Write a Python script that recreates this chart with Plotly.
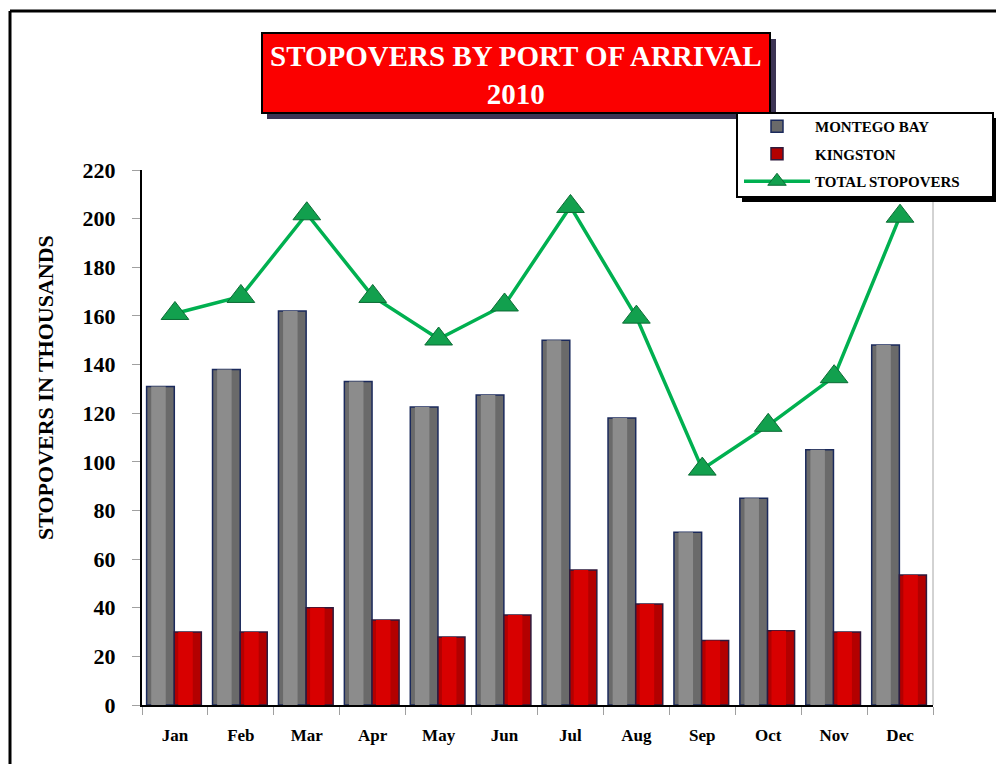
import plotly.graph_objects as go

months = ["Jan", "Feb", "Mar", "Apr", "May", "Jun", "Jul", "Aug", "Sep", "Oct", "Nov", "Dec"]
montego_bay = [131, 138, 162, 133, 122.5, 127.5, 150, 118, 71, 85, 105, 148]
kingston = [30, 30, 40, 35, 28, 37, 55.5, 41.5, 26.5, 30.5, 30, 53.5]
total_stopovers = [161, 168, 202, 168, 150.5, 164.5, 205, 159.5, 97, 115, 135, 201]
y_ticks = [0, 20, 40, 60, 80, 100, 120, 140, 160, 180, 200, 220]

FONT = "Liberation Serif"

# plot-area pixel geometry -> paper coordinates
L, R, T, B = 142, 933, 170, 705
W, H = 996, 764
def px(x):
    return (x - L) / (R - L)
def py(y):
    return (B - y) / (B - T)

fig = go.Figure()

# Montego Bay: base bar + soft highlight for a cylindrical look
fig.add_trace(go.Bar(
    x=months, y=montego_bay, name="MONTEGO BAY", legendgroup="mb",
    offset=-0.43, width=0.42,
    marker=dict(color="#6a6a6a", line=dict(color="#1b2a5c", width=1.5)),
))
fig.add_trace(go.Bar(
    x=months, y=montego_bay, name="MONTEGO BAY", legendgroup="mb", showlegend=False,
    offset=-0.36, width=0.22, hoverinfo="skip",
    marker=dict(color="#8c8c8c", line=dict(width=0)),
))
fig.add_trace(go.Bar(
    x=months, y=kingston, name="KINGSTON", legendgroup="kg",
    offset=-0.01, width=0.41,
    marker=dict(color="#b30000", line=dict(color="#2e1a3c", width=1.5)),
))
fig.add_trace(go.Bar(
    x=months, y=kingston, name="KINGSTON", legendgroup="kg", showlegend=False,
    offset=0.05, width=0.22, hoverinfo="skip",
    marker=dict(color="#d80000", line=dict(width=0)),
))
fig.add_trace(go.Scatter(
    x=months, y=total_stopovers, name="TOTAL STOPOVERS", legendgroup="tot",
    mode="lines+markers",
    line=dict(color="#00b050", width=3.5),
    marker=dict(symbol="triangle-up", size=24, color="#12a04e",
                line=dict(color="#0b6b34", width=1)),
))

shapes = [
    # title shadow + box
    dict(type="rect", xref="paper", yref="paper",
         x0=px(267), x1=px(776), y0=py(119), y1=py(39),
         fillcolor="#3c3454", line=dict(width=0), layer="above"),
    dict(type="rect", xref="paper", yref="paper",
         x0=px(262), x1=px(770), y0=py(113), y1=py(33),
         fillcolor="#fb0000", line=dict(color="#000000", width=2), layer="above"),
    # legend shadow + box
    dict(type="rect", xref="paper", yref="paper",
         x0=px(742), x1=px(998), y0=py(202), y1=py(118),
         fillcolor="#000000", line=dict(width=0), layer="above"),
    dict(type="rect", xref="paper", yref="paper",
         x0=px(737), x1=px(993), y0=py(197), y1=py(113),
         fillcolor="#ffffff", line=dict(color="#000000", width=2), layer="above"),
    # outer frame
    dict(type="line", xref="paper", yref="paper",
         x0=px(10), x1=px(10), y0=py(770), y1=py(11),
         line=dict(color="#000000", width=3)),
    dict(type="line", xref="paper", yref="paper",
         x0=px(10), x1=px(1000), y0=py(11), y1=py(11),
         line=dict(color="#000000", width=3)),
    # right edge of plot area
    dict(type="line", xref="paper", yref="paper",
         x0=1, x1=1, y0=0, y1=1,
         line=dict(color="#a6a6a6", width=1), layer="below"),
]

annotations = [
    dict(text="<b>STOPOVERS BY PORT OF ARRIVAL<br>2010</b>", xref="paper", yref="paper",
         x=px(516), y=py(75), showarrow=False, xanchor="center", yanchor="middle",
         font=dict(family=FONT, size=29, color="#ffffff")),
    dict(text="<b>STOPOVERS IN THOUSANDS</b>", xref="paper", yref="paper",
         x=px(45), y=py(388), showarrow=False, textangle=-90,
         xanchor="center", yanchor="middle",
         font=dict(family=FONT, size=22, color="#000000")),
]

fig.update_layout(
    width=W, height=H,
    margin=dict(l=L, r=W - R, t=T, b=H - B),
    paper_bgcolor="#ffffff", plot_bgcolor="#ffffff",
    barmode="overlay",
    font=dict(family=FONT, color="#000000"),
    showlegend=True,
    legend=dict(
        x=px(739), y=py(110), xanchor="left", yanchor="top",
        bgcolor="rgba(0,0,0,0)", borderwidth=0,
        font=dict(family=FONT, size=15, color="#000000", weight="bold"),
        itemwidth=66, traceorder="grouped", tracegroupgap=5,
    ),
    shapes=shapes,
    annotations=annotations,
    xaxis=dict(
        type="category", range=[-0.5, 11.5], showgrid=False, tickson="boundaries",
        ticks="outside", ticklen=8, tickcolor="#a0a0a0",
        showline=True, linecolor="#000000", linewidth=2,
        tickfont=dict(family=FONT, size=17, color="#000000", weight="bold"),
        ticklabelstandoff=14,
    ),
    yaxis=dict(
        range=[0, 220], tickvals=y_ticks, showgrid=False, zeroline=False,
        ticks="outside", ticklen=8, tickcolor="#a0a0a0",
        showline=True, linecolor="#000000", linewidth=2,
        tickfont=dict(family=FONT, size=22, color="#000000", weight="bold"),
        ticklabelstandoff=12,
    ),
)

fig.write_html("out.html", config={"displayModeBar": False},
               post_script="document.body.style.margin='0px';")
